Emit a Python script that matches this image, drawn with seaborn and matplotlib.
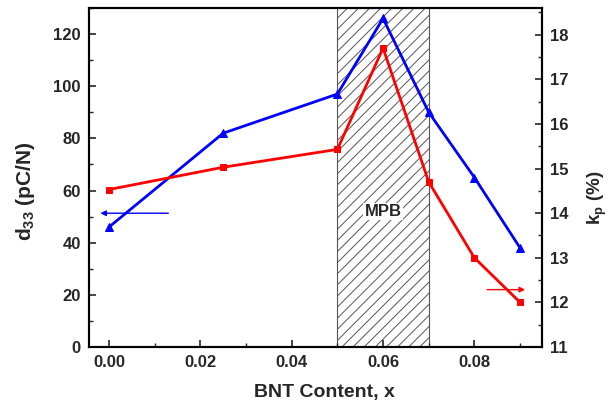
import matplotlib
matplotlib.use("Agg")
import matplotlib.pyplot as plt
import seaborn as sns
import pandas as pd
from matplotlib.ticker import MultipleLocator
from matplotlib.patches import Rectangle

bnt = [0.00, 0.025, 0.05, 0.06, 0.07, 0.08, 0.09]
d33 = [46, 82, 97, 126, 90, 65, 38]
kp = [14.53, 15.03, 15.43, 17.7, 14.7, 13.0, 12.0]

sns.set_style("white")
plt.rcParams['font.family'] = ['Liberation Sans', 'DejaVu Sans']
plt.rcParams['font.weight'] = 'bold'
plt.rcParams['hatch.color'] = '#666666'
plt.rcParams['hatch.linewidth'] = 0.7
plt.rcParams['mathtext.fontset'] = 'custom'
plt.rcParams['mathtext.rm'] = 'Liberation Sans:bold'
plt.rcParams['mathtext.bf'] = 'Liberation Sans:bold'

fig = plt.figure(figsize=(6.11, 4.07), dpi=100)
ax = fig.add_axes([89 / 611, 60 / 407, 453 / 611, 339 / 407])
ax2 = ax.twinx()

df = pd.DataFrame({"x": bnt, "d33": d33, "kp": kp})

ax.add_patch(Rectangle((0.05, 0), 0.02, 130, facecolor='white', edgecolor='#555555',
                       hatch='///', linewidth=0.8, zorder=0))

sns.lineplot(data=df, x="x", y="d33", ax=ax, color='#0000ff', marker='^', markersize=6,
             markeredgecolor='#0000ff', linewidth=2, zorder=3)
sns.lineplot(data=df, x="x", y="kp", ax=ax2, color='#ff0000', marker='s', markersize=5,
             markeredgecolor='#ff0000', linewidth=2, zorder=3)

ax.set_xlim(-0.00438, 0.0948)
ax.set_ylim(0, 130)
ax2.set_ylim(11, 18.6)

ax.xaxis.set_major_locator(MultipleLocator(0.02))
ax.xaxis.set_minor_locator(MultipleLocator(0.01))
ax.yaxis.set_major_locator(MultipleLocator(20))
ax.yaxis.set_minor_locator(MultipleLocator(10))
ax2.yaxis.set_major_locator(MultipleLocator(1))
ax2.yaxis.set_minor_locator(MultipleLocator(0.5))
ax.set_xticks([0.0, 0.02, 0.04, 0.06, 0.08])
ax.set_xticklabels(['0.00', '0.02', '0.04', '0.06', '0.08'])

for a in (ax, ax2):
    a.tick_params(which='major', direction='in', length=5, width=1.2, labelsize=12, pad=6)
    a.tick_params(which='minor', direction='in', length=3, width=1.0)
    for s in a.spines.values():
        s.set_linewidth(1.5)
        s.set_color('black')
ax.tick_params(axis='both', which='both', left=True, bottom=True)
ax2.tick_params(axis='y', which='both', right=True)

ax.set_xlabel('BNT Content, x', fontsize=14, fontweight='bold')
ax.set_ylabel(r'd$_{33}$ (pC/N)', fontsize=15, fontweight='bold')
ax2.set_ylabel(r'k$_{\mathrm{p}}$ (%)', fontsize=13.5, fontweight='bold')
ax.xaxis.set_label_coords(0.52, -0.11)
ax.yaxis.set_label_coords(-0.115, 0.46)
ax2.yaxis.set_label_coords(1.097, 0.44)

ax.text(0.06, 52, 'MPB', ha='center', va='center', fontsize=12, fontweight='bold',
        bbox=dict(facecolor='white', edgecolor='none', pad=1))

ax.annotate('', xy=(-0.0025, 51.3), xytext=(0.0136, 51.3),
            arrowprops=dict(arrowstyle='-|>', color='#0000ff', lw=1, mutation_scale=8))
ax.annotate('', xy=(0.0917, 22), xytext=(0.0822, 22),
            arrowprops=dict(arrowstyle='-|>', color='#ff0000', lw=1, mutation_scale=8))

fig.savefig('out.png', dpi=100)
